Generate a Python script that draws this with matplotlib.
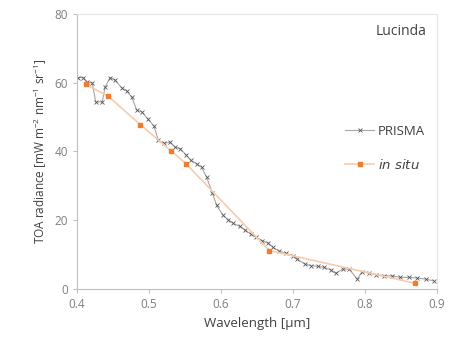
import numpy as np
import matplotlib.pyplot as plt

plt.rcParams["font.family"] = ["Open Sans", "DejaVu Sans"]
plt.rcParams["mathtext.default"] = "regular"

# PRISMA TOA radiance
prisma_wl = [0.402, 0.409, 0.414, 0.421, 0.426, 0.435, 0.439, 0.446, 0.453, 0.462,
             0.469, 0.476, 0.483, 0.490, 0.498, 0.507, 0.513, 0.521, 0.529, 0.536,
             0.543, 0.551, 0.558, 0.566, 0.573, 0.580, 0.588, 0.594, 0.603, 0.610,
             0.617, 0.626, 0.633, 0.641, 0.649, 0.657, 0.665, 0.672, 0.681, 0.690,
             0.700, 0.706, 0.716, 0.725, 0.734, 0.743, 0.753, 0.759, 0.769, 0.778,
             0.789, 0.796, 0.806, 0.815, 0.826, 0.838, 0.849, 0.861, 0.872, 0.884,
             0.895]
prisma_rad = [61.5, 61.5, 60.2, 60.0, 54.4, 54.4, 58.7, 61.5, 60.7, 58.5,
              57.6, 55.8, 52.0, 51.5, 49.5, 47.3, 43.2, 42.4, 42.7, 41.3,
              40.8, 39.1, 37.4, 36.4, 35.4, 32.5, 27.9, 24.3, 21.4, 20.1,
              19.1, 18.2, 17.2, 16.0, 15.0, 14.1, 13.4, 12.1, 11.0, 10.4,
              9.7, 8.7, 7.3, 6.8, 6.6, 6.3, 5.5, 4.6, 5.8, 5.8,
              2.9, 5.1, 4.6, 4.2, 3.9, 3.8, 3.4, 3.4, 3.2, 2.9,
              2.4]

# in situ simulated TOA radiance
insitu_wl = [0.412, 0.443, 0.488, 0.531, 0.551, 0.667, 0.869]
insitu_rad = [59.5, 56.1, 47.8, 40.1, 36.5, 11.2, 1.7]

xticks = [0.4, 0.5, 0.6, 0.7, 0.8, 0.9]
yticks = [0, 20, 40, 60, 80]

fig = plt.figure(figsize=(4.49, 3.47), dpi=100)
ax = fig.add_axes([0.1715, 0.167, 0.802, 0.793])

ax.plot(prisma_wl, prisma_rad, color="#a6a6a6", lw=0.8, marker="x",
        markersize=3, markeredgecolor="#595959", markeredgewidth=0.6, label="PRISMA")
ax.plot(insitu_wl, insitu_rad, color="#f8cbad", lw=1.2, marker="s",
        markersize=3.5, markerfacecolor="#ed7d31", markeredgecolor="#ed7d31",
        label="$\\it{in\\ situ}$")

ax.set_xlim(0.4, 0.9)
ax.set_ylim(0, 80)
ax.set_xticks(xticks)
ax.set_yticks(yticks)
ax.set_xticklabels([f"{t:.1f}" for t in xticks])

for s in ["top", "right"]:
    ax.spines[s].set_color("#e6e6e6")
for s in ["left", "bottom"]:
    ax.spines[s].set_color("#bfbfbf")
ax.tick_params(colors="#bfbfbf", labelcolor="#7f7f7f", labelsize=8.5, length=3)

ax.set_xlabel("Wavelength [µm]", fontsize=9.5, color="#404040", labelpad=4)
ax.set_ylabel("TOA radiance [mW m$^{-2}$ nm$^{-1}$ sr$^{-1}$]", fontsize=8.5,
              color="#404040", labelpad=4)

ax.text(0.97, 0.935, "Lucinda", transform=ax.transAxes, ha="right", va="center",
        fontsize=10, color="#404040")

leg = ax.legend(loc="upper right", bbox_to_anchor=(1.0, 0.64), frameon=False,
                fontsize=9.5, labelspacing=1.5, handlelength=2.2, handletextpad=0.3)
for t in leg.get_texts():
    t.set_color("#404040")

fig.savefig("out.png", dpi=100)
